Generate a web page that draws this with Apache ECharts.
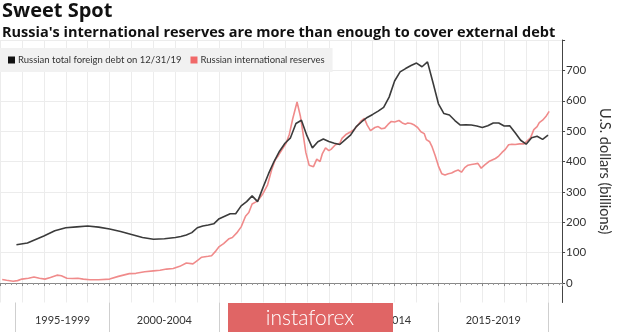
<!DOCTYPE html>
<html>
<head>
<meta charset="utf-8">
<script src="https://cdn.jsdelivr.net/npm/echarts@6/dist/echarts.min.js"></script>
<style>
html,body{margin:0;padding:0;background:#fff;}
#chart{width:620px;height:332px;}
</style>
</head>
<body>
<div id="chart"></div>
<script>
// ---- Data ----
var titleText = 'Sweet Spot';
var subtitleText = "Russia's international reserves are more than enough to cover external debt";
var debtName = 'Russian total foreign debt on 12/31/19';
var reservesName = 'Russian international reserves';
var yAxisName = 'U.S. dollars (billions)';

// Russian total foreign debt (USD bn), fractional years
var debtYears = [1995.75,1996.25,1997.0,1997.5,1998.0,1998.5,1999.0,1999.5,2000.0,2000.5,2001.0,2001.5,2002.0,2002.5,2003.0,2003.25,2003.5,2003.75,2004.0,2004.25,2004.5,2004.75,2005.0,2005.25,2005.5,2005.75,2006.0,2006.25,2006.5,2006.75,2007.0,2007.25,2007.5,2007.75,2008.0,2008.25,2008.5,2008.75,2009.0,2009.25,2009.5,2009.75,2010.0,2010.25,2010.5,2010.75,2011.0,2011.25,2011.5,2011.75,2012.0,2012.25,2012.5,2012.75,2013.0,2013.25,2013.5,2013.75,2014.0,2014.25,2014.5,2014.75,2015.0,2015.25,2015.5,2015.75,2016.0,2016.25,2016.5,2016.75,2017.0,2017.25,2017.5,2017.75,2018.0,2018.25,2018.5,2018.75,2019.0,2019.25,2019.5,2019.75,2020.0];
var debtValues = [126,132,155,172,182,185,188,184,178,170,160,150,144,146,150,153,158,166,182,188,191,195,212,220,228,228,254,268,287,268,315,360,400,434,460,478,525,536,485,445,465,474,466,460,456,472,488,515,531,545,555,566,578,612,665,695,706,716,724,712,728,660,590,558,553,535,520,521,520,517,512,518,527,527,517,518,495,470,457,478,483,473,487];

// Russian international reserves (USD bn), fractional years
var reserveYears = [1995.1,1995.3,1995.6,1995.8,1996.0,1996.3,1996.55,1996.8,1997.05,1997.3,1997.6,1997.8,1998.05,1998.3,1998.55,1998.8,1999.1,1999.5,2000.0,2000.4,2000.9,2001.2,2001.6,2002.0,2002.3,2002.6,2002.9,2003.2,2003.5,2003.8,2004.0,2004.2,2004.5,2004.65,2004.85,2005.0,2005.2,2005.45,2005.6,2005.8,2006.0,2006.2,2006.35,2006.5,2006.7,2006.8,2007.0,2007.2,2007.4,2007.55,2007.7,2007.85,2008.05,2008.2,2008.35,2008.55,2008.7,2008.8,2008.95,2009.1,2009.3,2009.45,2009.6,2009.7,2009.85,2010.0,2010.1,2010.3,2010.5,2010.6,2010.8,2011.0,2011.15,2011.3,2011.45,2011.62,2011.75,2011.9,2012.1,2012.25,2012.4,2012.55,2012.7,2012.85,2013.0,2013.2,2013.35,2013.5,2013.6,2013.75,2013.9,2014.05,2014.2,2014.35,2014.45,2014.6,2014.7,2014.85,2015.0,2015.15,2015.3,2015.45,2015.6,2015.75,2015.9,2016.05,2016.2,2016.35,2016.5,2016.65,2016.8,2016.95,2017.1,2017.3,2017.45,2017.6,2017.75,2017.9,2018.05,2018.2,2018.35,2018.5,2018.7,2018.9,2019.05,2019.2,2019.35,2019.5,2019.6,2019.75,2019.9,2020.05];
var reserveValues = [12,9,6,8,13,16,20,16,13,18,26,24,16,15,16,13,11,11,13,22,31,32,37,40,42,46,48,55,66,63,74,85,88,90,106,120,130,146,150,165,185,220,232,260,268,275,295,322,375,405,420,438,460,490,540,596,550,503,430,388,383,408,400,425,445,436,440,455,460,476,490,498,505,518,532,542,520,502,512,515,508,510,522,532,530,535,527,523,527,525,520,512,498,492,472,465,450,420,385,360,356,360,362,368,372,365,380,388,390,392,394,378,388,400,405,410,418,430,440,455,457,456,458,458,468,478,505,515,528,536,548,565];

// Axis ticks / labels
var yTickValues = [0,100,200,300,400,500,600,700,800];
var yLabelValues = [0,100,200,300,400,500,600,700];
var periodLabels = ['1995-1999','2000-2004','2005-2009','2010-2014','2015-2019'];
var periodBounds = [1995.7,2000,2005,2010,2015,2020];
var watermarkText = 'instaforex';

// ---- Build ----
function pairs(xs, ys){ var out=[]; for(var i=0;i<xs.length;i++){ out.push([xs[i], ys[i]]); } return out; }
var periodCenters = [];
for (var i=0;i<periodLabels.length;i++){ periodCenters.push((periodBounds[i]+periodBounds[i+1])/2); }

var FONT = 'Lato, "Open Sans", sans-serif';
var TFONT = '"Open Sans", "Noto Sans", sans-serif';
var XMIN = 1995, XMAX = 2020.64;

var chart = echarts.init(document.getElementById('chart'), null, {renderer:'canvas'});
chart.setOption({
  animation:false,
  backgroundColor:'#ffffff',
  title:[
    {text:titleText,left:2,top:1,padding:0,textStyle:{fontFamily:TFONT,fontSize:20,fontWeight:'bold',color:'#111'}},
    {text:subtitleText,left:2,top:25,padding:0,textStyle:{fontFamily:TFONT,fontSize:14.5,fontWeight:'bold',color:'#111'}}
  ],
  legend:{
    left:0, top:48, padding:[7,8,7,8], itemGap:9, itemWidth:7, itemHeight:7, icon:'rect',
    backgroundColor:'#f1f1f1', borderRadius:0,
    data:[debtName,reservesName],
    textStyle:{fontFamily:FONT,fontSize:9.5,color:'#333',padding:[0,0,0,-2]}
  },
  grid:{left:-2.8,right:51,top:40,bottom:29.5,containLabel:false},
  xAxis:[
    {type:'value',min:XMIN,max:XMAX,interval:1,position:'bottom',
     axisLine:{show:true,lineStyle:{color:'#888',width:1}},
     axisTick:{show:true,length:3,lineStyle:{color:'#888'}},
     minorTick:{show:true,splitNumber:4,length:2,lineStyle:{color:'#999'}},
     axisLabel:{show:false},
     splitLine:{show:true,lineStyle:{color:'#ececec',width:1}}},
    {type:'value',min:XMIN,max:XMAX,position:'bottom',
     axisLine:{show:false},
     axisTick:{show:true,length:30,customValues:periodBounds,lineStyle:{color:'#cfcfcf'}},
     axisLabel:{show:true,customValues:periodCenters,margin:12,fontFamily:FONT,fontSize:11,color:'#333',
       formatter:function(v){ for(var k=0;k<periodCenters.length;k++){ if(Math.abs(periodCenters[k]-v)<0.01) return periodLabels[k]; } return ''; }},
     splitLine:{show:false}}
  ],
  yAxis:{
    type:'value',position:'right',min:-64,max:800,
    name:yAxisName,nameLocation:'middle',nameRotate:-90,nameGap:32,
    nameTextStyle:{fontFamily:FONT,fontSize:14.5,color:'#333'},
    axisLine:{show:true,lineStyle:{color:'#444',width:1}},
    axisTick:{show:true,length:3,inside:false,customValues:yTickValues,lineStyle:{color:'#444'}},
    axisLabel:{show:true,customValues:yLabelValues,margin:4,fontFamily:FONT,fontSize:11.5,color:'#333'},
    splitLine:{show:true,lineStyle:{color:'#ececec',width:1}}
  },
  series:[
    {name:reservesName,type:'line',xAxisIndex:0,data:pairs(reserveYears,reserveValues),showSymbol:false,
     lineStyle:{color:'#f08b8b',width:1.6},itemStyle:{color:'#f06868'},z:2},
    {name:debtName,type:'line',xAxisIndex:0,data:pairs(debtYears,debtValues),showSymbol:false,
     lineStyle:{color:'#3b3b3b',width:1.6},itemStyle:{color:'#111'},z:3}
  ],
  graphic:[
    {type:'rect',left:228,top:303,z:1000,shape:{width:165,height:30},style:{fill:'#e06565'}},
    {type:'text',x:310,y:318,z:1001,style:{text:watermarkText,align:'center',verticalAlign:'middle',fill:'#fff',font:'300 21px Lato, "Open Sans", sans-serif'}}
  ]
});
</script>
</body>
</html>
